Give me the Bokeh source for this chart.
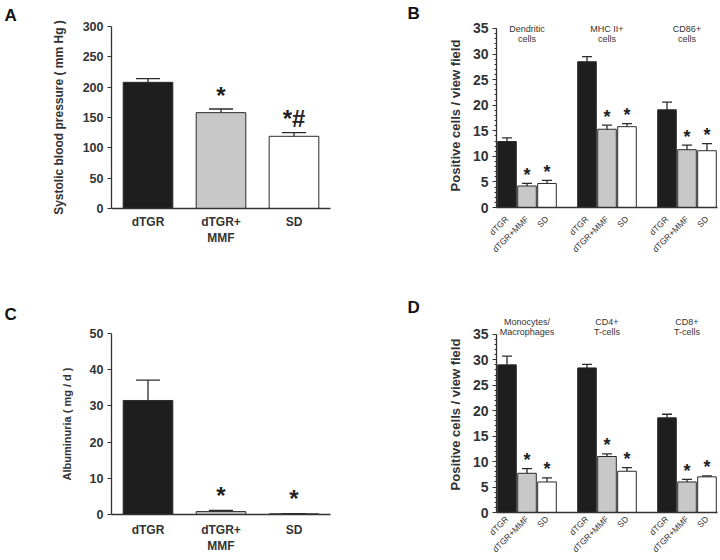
import math
from bokeh.plotting import figure
from bokeh.layouts import column, row
from bokeh.models import Range1d, FixedTicker
from bokeh.core.properties import value
from bokeh.embed import file_html
from bokeh.resources import INLINE

# ---------------- data ----------------
A_labels = ["dTGR", "dTGR+\nMMF", "SD"]
A_values = [208, 158, 119]
A_err = [6, 6, 6]
A_marks = ["", "*", "*#"]

C_labels = ["dTGR", "dTGR+\nMMF", "SD"]
C_values = [31.5, 0.8, 0.2]
C_err = [5.6, 0.3, 0.05]
C_marks = ["", "*", "*"]

treat_labels = ["dTGR", "dTGR+MMF", "SD"]

B_groups = ["Dendritic\ncells", "MHC II+\ncells", "CD86+\ncells"]
B_dTGR = [12.9, 28.5, 19.1]
B_dTGR_err = [0.7, 1.0, 1.5]
B_MMF = [4.2, 15.3, 11.3]
B_MMF_err = [0.5, 0.8, 0.9]
B_SD = [4.7, 15.8, 11.1]
B_SD_err = [0.6, 0.6, 1.4]

D_groups = ["Monocytes/\nMacrophages", "CD4+\nT-cells", "CD8+\nT-cells"]
D_dTGR = [29.0, 28.4, 18.6]
D_dTGR_err = [1.7, 0.7, 0.7]
D_MMF = [7.7, 11.0, 6.0]
D_MMF_err = [0.9, 0.5, 0.5]
D_SD = [6.0, 8.1, 7.0]
D_SD_err = [0.8, 0.7, 0.2]

BAR_COLORS = ["#1e1e1e", "#c8c8c8", "#ffffff"]
OUTLINE = "#2b2b2b"
AX = "#333333"
FONT = "Liberation Sans"
W, H = 360, 280


def base_fig(bl, br, bt, bb, xr, yr, letter, letter_offset, letter_standoff):
    p = figure(width=W, height=H, output_backend="svg", toolbar_location=None,
               x_range=Range1d(*xr), y_range=Range1d(*yr),
               min_border_left=bl, min_border_right=br,
               min_border_top=bt, min_border_bottom=bb,
               title=letter)
    p.title.text_font = FONT
    p.title.text_font_style = "bold"
    p.title.text_font_size = "17px"
    p.title.text_color = "#111111"
    p.title.align = "left"
    p.title.offset = letter_offset
    p.title.standoff = letter_standoff
    p.outline_line_color = None
    p.grid.visible = False
    p.background_fill_color = "white"
    p.border_fill_color = "white"
    for ax in (p.xaxis[0], p.yaxis[0]):
        ax.axis_line_color = AX
        ax.axis_line_width = 1.3
        ax.major_label_text_font = FONT
        ax.major_label_text_color = AX
        ax.axis_label_text_font = FONT
        ax.axis_label_text_color = AX
        ax.axis_label_text_font_style = "bold"
    p.xaxis.major_tick_line_color = None
    p.xaxis.minor_tick_line_color = None
    p.xaxis.major_tick_out = 0
    p.xaxis.minor_tick_out = 0
    p.xaxis.axis_label_standoff = 0
    p.yaxis.major_tick_line_color = AX
    p.yaxis.major_tick_in = 0
    p.yaxis.major_tick_out = 4
    return p


def add_bars(p, xs, vals, errs, color, width, cap):
    p.vbar(x=xs, top=vals, bottom=0, width=width, fill_color=color,
           line_color=OUTLINE, line_width=1)
    tops = [v + e for v, e in zip(vals, errs)]
    p.segment(x0=xs, y0=vals, x1=xs, y1=tops, line_color=OUTLINE, line_width=1.3)
    p.segment(x0=[x - cap / 2 for x in xs], y0=tops,
              x1=[x + cap / 2 for x in xs], y1=tops,
              line_color=OUTLINE, line_width=1.3)


def simple_panel(labels, vals, errs, marks, yr, yticks, ylabel, label_size,
                 bl, br, bt, bb, star_off, star_size, letter, loff, lstand, xstand):
    p = base_fig(bl, br, bt, bb, (0.5, 3.5), yr, letter, loff, lstand)
    xs = [1, 2, 3]
    for i in range(3):
        add_bars(p, [xs[i]], [vals[i]], [errs[i]], BAR_COLORS[i], 0.68, 0.33)
    p.xaxis.ticker = FixedTicker(ticks=xs)
    p.xaxis.major_label_overrides = {x: l for x, l in zip(xs, labels)}
    p.xaxis.major_label_text_font_size = "12px"
    p.xaxis.major_label_text_font_style = "bold"
    p.xaxis.major_label_standoff = xstand
    p.yaxis.ticker = FixedTicker(ticks=yticks)
    p.yaxis.minor_tick_line_color = None
    p.yaxis.major_label_text_font_size = "12.5px"
    p.yaxis.major_label_text_font_style = "bold"
    p.yaxis.major_label_standoff = 4
    p.yaxis.axis_label = ylabel
    p.yaxis.axis_label_text_font_size = label_size
    p.yaxis.axis_label_standoff = 14
    sx = [x for x, m in zip(xs, marks) if m]
    sy = [v + e + star_off for v, e, m in zip(vals, errs, marks) if m]
    st = [m for m in marks if m]
    p.text(x=sx, y=sy, text=st, text_align="center", text_baseline="middle",
           text_font=value(FONT), text_font_style="bold",
           text_font_size=star_size, text_color="#222222")
    return p


def group_panel(groups, d, de, m, me, s, se, yr, bt, bb, title_y, star_off,
                letter, loff, lstand, xstand):
    p = base_fig(136, 3, bt, bb, (-0.525, 10.525), yr, letter, loff, lstand)
    gx = [0, 4, 8]
    add_bars(p, [g for g in gx], d, de, BAR_COLORS[0], 0.93, 0.5)
    add_bars(p, [g + 1 for g in gx], m, me, BAR_COLORS[1], 0.93, 0.5)
    add_bars(p, [g + 2 for g in gx], s, se, BAR_COLORS[2], 0.93, 0.5)
    ticks = []
    lab = {}
    for g in gx:
        for k in range(3):
            ticks.append(g + k)
            lab[g + k] = treat_labels[k]
    p.xaxis.ticker = FixedTicker(ticks=ticks)
    p.xaxis.major_label_overrides = lab
    p.xaxis.major_label_orientation = math.pi / 4
    p.xaxis.major_label_text_font_size = "8.5px"
    p.xaxis.major_label_standoff = xstand
    p.yaxis.bounds = (0, 35)
    p.yaxis.ticker = FixedTicker(ticks=[0, 5, 10, 15, 20, 25, 30, 35],
                                 minor_ticks=[i for i in range(0, 36)])
    p.yaxis.minor_tick_line_color = AX
    p.yaxis.minor_tick_in = 0
    p.yaxis.minor_tick_out = 2
    p.yaxis.major_label_text_font_size = "14px"
    p.yaxis.major_label_text_font_style = "bold"
    p.yaxis.major_label_standoff = 4
    p.yaxis.axis_label = "Positive cells / view field"
    p.yaxis.axis_label_text_font_size = "13px"
    p.yaxis.axis_label_standoff = 7
    # group titles
    p.text(x=[g + 1 for g in gx], y=[title_y] * 3, text=groups,
           text_align="center", text_baseline="top", text_font=value(FONT),
           text_font_size="9px", text_color="#333333", text_line_height=1.0)
    # asterisks
    sx = [g + 1 for g in gx] + [g + 2 for g in gx]
    sy = [v + e + star_off for v, e in zip(m, me)] + [v + e + star_off for v, e in zip(s, se)]
    p.text(x=sx, y=sy, text=["*"] * 6, text_align="center", text_baseline="middle",
           text_font=value(FONT), text_font_style="bold", text_font_size="18px",
           text_color="#222222")
    return p


pA = simple_panel(A_labels, A_values, A_err, A_marks, (0, 300),
                  [0, 50, 100, 150, 200, 250, 300],
                  "Systolic blood pressure ( mm Hg )", "12px",
                  111, 30, 26, 72, 23, "24px", "A", -107, 4, 6)

pC = simple_panel(C_labels, C_values, C_err, C_marks, (0, 50),
                  [0, 10, 20, 30, 40, 50],
                  "Albuminuria ( mg / d )", "11px",
                  111, 30, 53, 46, 4.2, "24px", "C", -107, 19, 8)

pB = group_panel(B_groups, B_dTGR, B_dTGR_err, B_MMF, B_MMF_err, B_SD, B_SD_err,
                 (0, 35.97), 22, 73, 35.9, 1.6, "B", -89, 2, 10)

pD = group_panel(D_groups, D_dTGR, D_dTGR_err, D_MMF, D_MMF_err, D_SD, D_SD_err,
                 (0, 38.5), 36, 46, 38.45, 1.7, "D", -89, 0, 5)

layout = row(column(pA, pC), column(pB, pD))
open("out.html", "w").write(file_html(layout, INLINE))
